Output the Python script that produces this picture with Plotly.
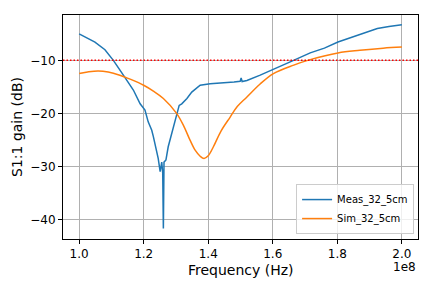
import plotly.graph_objects as go

# Frequency in units of 1e8 Hz
meas_freq = [1.000, 1.020, 1.049, 1.080, 1.106, 1.137, 1.168, 1.189, 1.204, 1.214,
             1.225, 1.230, 1.238, 1.245, 1.251, 1.256, 1.259, 1.261, 1.263, 1.269,
             1.276, 1.287, 1.297, 1.302, 1.310, 1.318, 1.334, 1.349, 1.375, 1.406,
             1.447, 1.480, 1.499, 1.502, 1.505, 1.520, 1.561, 1.602, 1.654, 1.716,
             1.760, 1.802, 1.861, 1.924, 1.960, 2.000]
meas_db = [-5.0, -5.6, -6.55, -8.0, -10.0, -12.8, -15.6, -18.2, -19.4, -21.6,
           -23.2, -24.4, -26.6, -28.5, -31.0, -29.2, -31.3, -41.7, -29.2, -28.8,
           -26.3, -23.8, -21.3, -20.0, -18.5, -18.2, -17.2, -16.0, -14.7, -14.4,
           -14.3, -14.1, -13.95, -13.3, -14.0, -13.8, -12.8, -11.75, -10.3, -8.6,
           -7.7, -6.55, -5.3, -4.0, -3.6, -3.27]

sim_freq = [1.000, 1.030, 1.059, 1.090, 1.126, 1.160, 1.200, 1.230, 1.261, 1.302,
            1.325, 1.344, 1.360, 1.375, 1.387, 1.400, 1.416, 1.440, 1.468, 1.490,
            1.520, 1.560, 1.602, 1.665, 1.716, 1.802, 1.870, 1.942, 2.000]
sim_db = [-12.5, -12.15, -12.0, -12.2, -12.8, -13.6, -14.7, -15.8, -17.2, -20.0,
          -22.5, -25.1, -27.0, -28.1, -28.5, -28.0, -26.3, -23.3, -20.7, -18.7,
          -16.9, -14.5, -12.5, -10.9, -9.87, -8.6, -8.1, -7.7, -7.5]

threshold_db = -10
x_tick_vals = [1.0, 1.2, 1.4, 1.6, 1.8, 2.0]
x_tick_text = ["1.0", "1.2", "1.4", "1.6", "1.8", "2.0"]
y_tick_vals = [-40, -30, -20, -10]
y_tick_text = ["\u221240", "\u221230", "\u221220", "\u221210"]
scale = 1e8

FONT = "DejaVu Sans"

fig = go.Figure()
fig.add_trace(go.Scatter(x=[f * scale for f in meas_freq], y=meas_db, mode="lines",
                         name="Meas_32_5cm", line=dict(color="#1f77b4", width=1.5)))
fig.add_trace(go.Scatter(x=[f * scale for f in sim_freq], y=sim_db, mode="lines",
                         name="Sim_32_5cm", line=dict(color="#ff7f0e", width=1.5, shape="spline")))
fig.add_hline(y=threshold_db, line=dict(color="red", width=1.5, dash="1.5px,2px"))

fig.update_layout(
    width=432, height=288,
    margin=dict(l=63, r=14, t=15, b=49),
    paper_bgcolor="white", plot_bgcolor="white",
    font=dict(family=FONT, size=12, color="black"),
    showlegend=True,
    legend=dict(x=0.989, y=0.022, xanchor="right", yanchor="bottom",
                bgcolor="rgba(255,255,255,0.8)", bordercolor="#cccccc", borderwidth=1,
                font=dict(family=FONT, size=10), itemwidth=30,
                tracegroupgap=0),
)
fig.update_xaxes(range=[0.95 * scale, 2.05 * scale],
                 tickvals=[v * scale for v in x_tick_vals], ticktext=x_tick_text,
                 showgrid=True, gridcolor="#b0b0b0", gridwidth=0.8,
                 showline=True, mirror=True, linecolor="black", linewidth=1,
                 ticks="outside", ticklen=4, tickcolor="black", zeroline=False,
                 tickfont=dict(size=12))
fig.update_yaxes(range=[-43.7, -1.45],
                 tickvals=y_tick_vals, ticktext=y_tick_text,
                 showgrid=True, gridcolor="#b0b0b0", gridwidth=0.8,
                 showline=True, mirror=True, linecolor="black", linewidth=1,
                 ticks="outside", ticklen=4, tickcolor="black", zeroline=False,
                 tickfont=dict(size=12))

fig.add_annotation(text="Frequency (Hz)", xref="paper", yref="paper", x=0.5, y=-0.138,
                   xanchor="center", yanchor="middle", showarrow=False,
                   font=dict(family=FONT, size=14))
fig.add_annotation(text="S1:1 gain (dB)", xref="paper", yref="paper", x=-0.1296, y=0.5,
                   xanchor="center", yanchor="middle", showarrow=False, textangle=-90,
                   font=dict(family=FONT, size=14))
fig.add_annotation(text="1e8", xref="paper", yref="paper", x=1.0, y=-0.125,
                   xanchor="right", yanchor="middle", showarrow=False,
                   font=dict(family=FONT, size=12))

fig.write_html("out.html", config={"displayModeBar": False},
               post_script="document.body.style.margin='0';document.body.style.padding='0';")
